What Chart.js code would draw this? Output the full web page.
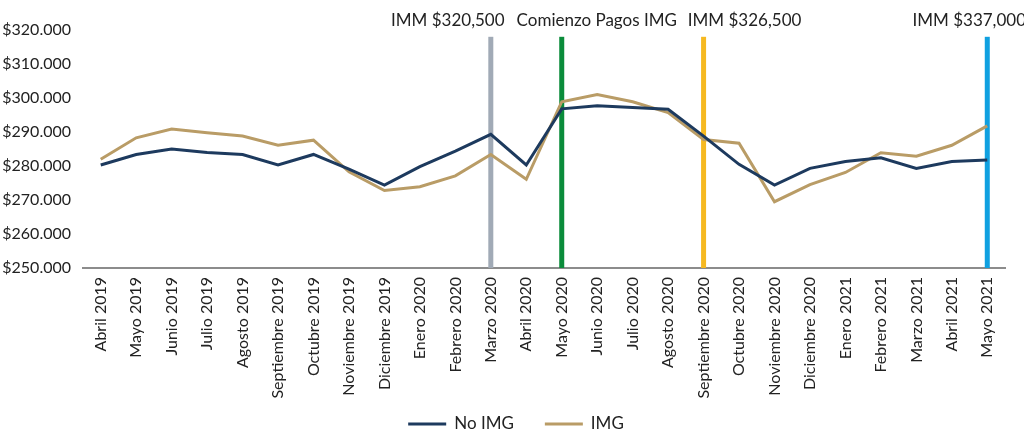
<!DOCTYPE html>
<html>
<head>
<meta charset="utf-8">
<script src="https://cdn.jsdelivr.net/npm/chart.js@4"></script>
<style>
  html, body { margin: 0; padding: 0; background: #fff; }
  #wrap { width: 1024px; height: 434px; }
</style>
</head>
<body>
<div id="wrap"><canvas id="chart" width="1024" height="434"></canvas></div>
<script>
// Categories (months)
var months = ["Abril 2019", "Mayo 2019", "Junio 2019", "Julio 2019", "Agosto 2019",
    "Septiembre 2019", "Octubre 2019", "Noviembre 2019", "Diciembre 2019", "Enero 2020",
    "Febrero 2020", "Marzo 2020", "Abril 2020", "Mayo 2020", "Junio 2020", "Julio 2020",
    "Agosto 2020", "Septiembre 2020", "Octubre 2020", "Noviembre 2020", "Diciembre 2020",
    "Enero 2021", "Febrero 2021", "Marzo 2021", "Abril 2021", "Mayo 2021"];

// Series values
var noImg = [280300, 283400, 285000, 284000, 283400, 280300, 283400, 279100, 274400, 279800,
    284400, 289300, 280300, 296800, 297700, 297200, 296700, 288800, 280500, 274400,
    279300, 281300, 282400, 279300, 281300, 281800];
var img = [282000, 288300, 290900, 289800, 288800, 286100, 287600, 278300, 272800, 273900,
    277100, 283400, 276100, 298900, 301000, 298900, 295700, 287800, 286700, 269500,
    274500, 278100, 283900, 282900, 286100, 291800];

// Y axis ticks
var yMin = 250000, yMax = 320000, yStep = 10000;

// Vertical markers
var markerMonths = ["Marzo 2020", "Mayo 2020", "Septiembre 2020", "Mayo 2021"];
var markerLabels = ["IMM $320,500", "Comienzo Pagos IMG", "IMM $326,500", "IMM $337,000"];
var markerTop = 318000;

var markerColors = ["#a1aab6", "#0b8c3b", "#f6b921", "#0fa0e0"];
var markerLabelShift = [-43, 35, 41, -18];

var FONT = "Lato, 'Open Sans', sans-serif";

function money(v) {
    return "$" + String(v).replace(/\B(?=(\d{3})+(?!\d))/g, ".");
}

var markerPlugin = {
    id: "markers",
    beforeDatasetsDraw: function (chart) {
        var ctx = chart.ctx, xs = chart.scales.x, ys = chart.scales.y;
        ctx.save();
        markerMonths.forEach(function (m, i) {
            var x = xs.getPixelForValue(months.indexOf(m));
            var top = ys.getPixelForValue(markerTop);
            var bottom = ys.getPixelForValue(yMin);
            ctx.fillStyle = markerColors[i];
            ctx.fillRect(x - 2.5, top, 5, bottom - top);
            ctx.fillStyle = "#222";
            ctx.font = "17px " + FONT;
            ctx.textAlign = "center";
            ctx.textBaseline = "alphabetic";
            ctx.fillText(markerLabels[i], x + markerLabelShift[i], 26);
        });
        ctx.restore();
    }
};

// legend at the bottom, with a wider gap between items than chart.js allows
var legendPlugin = {
    id: "bottomLegend",
    afterDraw: function (chart) {
        var ctx = chart.ctx;
        var sets = chart.data.datasets;
        var box = 38, gap = 8, itemGap = 31, y = 424;
        ctx.save();
        ctx.font = "17px " + FONT;
        var total = 0;
        sets.forEach(function (ds, i) {
            total += box + gap + ctx.measureText(ds.label).width;
            if (i > 0) total += itemGap;
        });
        var x = chart.width / 2 + 4 - total / 2;
        ctx.textAlign = "left";
        ctx.textBaseline = "middle";
        sets.forEach(function (ds) {
            ctx.fillStyle = ds.borderColor;
            ctx.fillRect(x, y - 1.5, box, 3);
            x += box + gap;
            ctx.fillStyle = "#222";
            ctx.fillText(ds.label, x, y);
            x += ctx.measureText(ds.label).width + itemGap;
        });
        ctx.restore();
    }
};

var ctx = document.getElementById("chart").getContext("2d");
var chart = new Chart(ctx, {
    type: "line",
    data: {
        labels: months,
        datasets: [{
            label: "No IMG",
            data: noImg,
            borderColor: "#1d3a5e",
            backgroundColor: "#1d3a5e",
            borderWidth: 3,
            pointRadius: 0,
            tension: 0
        }, {
            label: "IMG",
            data: img,
            borderColor: "#b99c66",
            backgroundColor: "#b99c66",
            borderWidth: 3,
            pointRadius: 0,
            tension: 0
        }]
    },
    options: {
        responsive: false,
        animation: false,
        layout: { padding: { top: 30, right: 19, bottom: 0, left: 0 } },
        plugins: {
            legend: { display: false },
            tooltip: { enabled: false }
        },
        scales: {
            x: {
                offset: true,
                grid: { display: false, drawTicks: false },
                border: { display: true, color: "#8c8c8c", width: 2 },
                afterFit: function (scale) { scale.height = 166; },
                ticks: {
                    minRotation: 90,
                    maxRotation: 90,
                    autoSkip: false,
                    padding: 9,
                    color: "#222",
                    font: { family: FONT, size: 16 }
                }
            },
            y: {
                min: yMin,
                max: yMax,
                grid: { display: false, drawTicks: false },
                border: { display: false },
                afterFit: function (scale) { scale.width = 83; },
                ticks: {
                    stepSize: yStep,
                    padding: 12,
                    color: "#222",
                    font: { family: FONT, size: 16 },
                    callback: function (v) { return money(v); }
                }
            }
        }
    },
    plugins: [markerPlugin, legendPlugin]
});
</script>
</body>
</html>
